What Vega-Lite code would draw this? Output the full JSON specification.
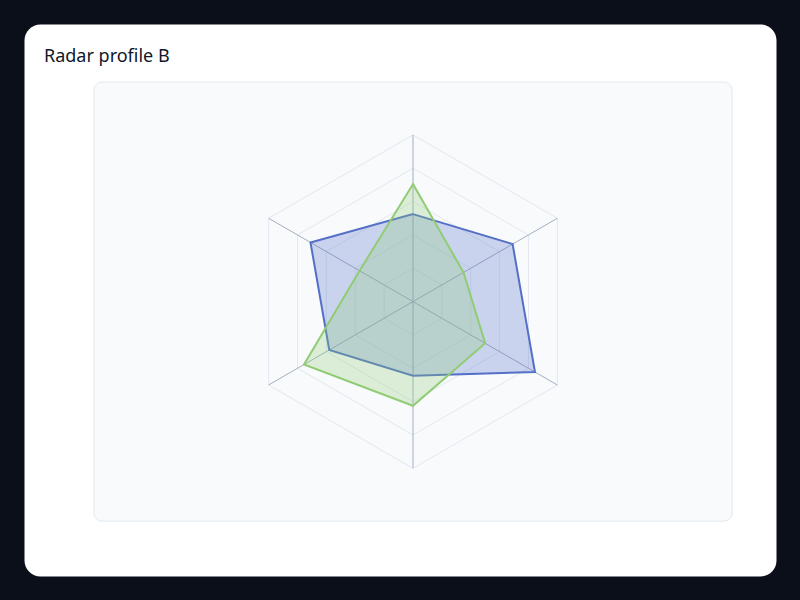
{
  "$schema": "https://vega.github.io/schema/vega-lite/v6.json",
  "width": 752,
  "height": 552,
  "autosize": "none",
  "padding": {"left": 24, "top": 24, "right": 24, "bottom": 24},
  "background": "#0b0f19",
  "title": {
    "text": "Radar profile B",
    "anchor": "start",
    "frame": "group",
    "orient": "top",
    "offset": -42,
    "dx": 20,
    "font": "Noto Sans",
    "fontSize": 18,
    "fontWeight": "normal",
    "color": "#0f172a"
  },
  "datasets": {
    "profile": [
      {"series": "Series 1", "axis": 0, "value": 52.5},
      {"series": "Series 1", "axis": 1, "value": 69},
      {"series": "Series 1", "axis": 2, "value": 84.5},
      {"series": "Series 1", "axis": 3, "value": 44.5},
      {"series": "Series 1", "axis": 4, "value": 58},
      {"series": "Series 1", "axis": 5, "value": 71},
      {"series": "Series 2", "axis": 0, "value": 70.5},
      {"series": "Series 2", "axis": 1, "value": 35},
      {"series": "Series 2", "axis": 2, "value": 50},
      {"series": "Series 2", "axis": 3, "value": 62.5},
      {"series": "Series 2", "axis": 4, "value": 75.5},
      {"series": "Series 2", "axis": 5, "value": 37}
    ],
    "rings": [
      {"level": 20, "axis": 0}, {"level": 20, "axis": 1}, {"level": 20, "axis": 2},
      {"level": 20, "axis": 3}, {"level": 20, "axis": 4}, {"level": 20, "axis": 5},
      {"level": 40, "axis": 0}, {"level": 40, "axis": 1}, {"level": 40, "axis": 2},
      {"level": 40, "axis": 3}, {"level": 40, "axis": 4}, {"level": 40, "axis": 5},
      {"level": 60, "axis": 0}, {"level": 60, "axis": 1}, {"level": 60, "axis": 2},
      {"level": 60, "axis": 3}, {"level": 60, "axis": 4}, {"level": 60, "axis": 5},
      {"level": 80, "axis": 0}, {"level": 80, "axis": 1}, {"level": 80, "axis": 2},
      {"level": 80, "axis": 3}, {"level": 80, "axis": 4}, {"level": 80, "axis": 5},
      {"level": 100, "axis": 0}, {"level": 100, "axis": 1}, {"level": 100, "axis": 2},
      {"level": 100, "axis": 3}, {"level": 100, "axis": 4}, {"level": 100, "axis": 5}
    ],
    "spokes": [
      {"axis": 0, "level": 100}, {"axis": 1, "level": 100}, {"axis": 2, "level": 100},
      {"axis": 3, "level": 100}, {"axis": 4, "level": 100}, {"axis": 5, "level": 100}
    ],
    "panel": [
      {"left": -1.914, "right": 1.914, "top": 1.317, "bottom": -1.317}
    ]
  },
  "layer": [
    {
      "data": {"name": "panel"},
      "mark": {"type": "rect", "fill": "#f8fafc", "stroke": "#e2e8f0", "strokeWidth": 1, "cornerRadius": 8},
      "encoding": {
        "x": {"field": "left", "type": "quantitative", "scale": {"domain": [-2.3335, 2.1776], "nice": false, "zero": false}, "axis": null},
        "x2": {"field": "right"},
        "y": {"field": "top", "type": "quantitative", "scale": {"domain": [-1.646, 1.6653], "nice": false, "zero": false}, "axis": null},
        "y2": {"field": "bottom"}
      }
    },
    {
      "data": {"name": "rings"},
      "transform": [
        {"calculate": "datum.level / 100 * sin(datum.axis * PI / 3)", "as": "px"},
        {"calculate": "datum.level / 100 * cos(datum.axis * PI / 3)", "as": "py"}
      ],
      "mark": {"type": "line", "interpolate": "linear-closed", "stroke": "#e2e8f0", "strokeWidth": 1},
      "encoding": {
        "x": {"field": "px", "type": "quantitative"},
        "y": {"field": "py", "type": "quantitative"},
        "detail": {"field": "level", "type": "nominal"},
        "order": {"field": "axis", "type": "quantitative"}
      }
    },
    {
      "data": {"name": "spokes"},
      "transform": [
        {"calculate": "datum.level / 100 * sin(datum.axis * PI / 3)", "as": "px"},
        {"calculate": "datum.level / 100 * cos(datum.axis * PI / 3)", "as": "py"},
        {"calculate": "0", "as": "origin"}
      ],
      "mark": {"type": "rule", "stroke": "#a3afc2", "strokeWidth": 1},
      "encoding": {
        "x": {"field": "origin", "type": "quantitative"},
        "y": {"field": "origin", "type": "quantitative"},
        "x2": {"field": "px"},
        "y2": {"field": "py"}
      }
    },
    {
      "data": {"name": "profile"},
      "transform": [
        {"calculate": "datum.value / 100 * sin(datum.axis * PI / 3)", "as": "px"},
        {"calculate": "datum.value / 100 * cos(datum.axis * PI / 3)", "as": "py"}
      ],
      "mark": {"type": "line", "interpolate": "linear-closed", "strokeWidth": 2, "fillOpacity": 0.28},
      "encoding": {
        "x": {"field": "px", "type": "quantitative"},
        "y": {"field": "py", "type": "quantitative"},
        "stroke": {"field": "series", "type": "nominal", "scale": {"domain": ["Series 1", "Series 2"], "range": ["#5470c6", "#91cc75"]}, "legend": null},
        "fill": {"field": "series", "type": "nominal", "scale": {"domain": ["Series 1", "Series 2"], "range": ["#5470c6", "#91cc75"]}, "legend": null},
        "order": {"field": "axis", "type": "quantitative"}
      }
    }
  ],
  "config": {
    "view": {"fill": "#ffffff", "stroke": "transparent", "cornerRadius": 16}
  }
}
